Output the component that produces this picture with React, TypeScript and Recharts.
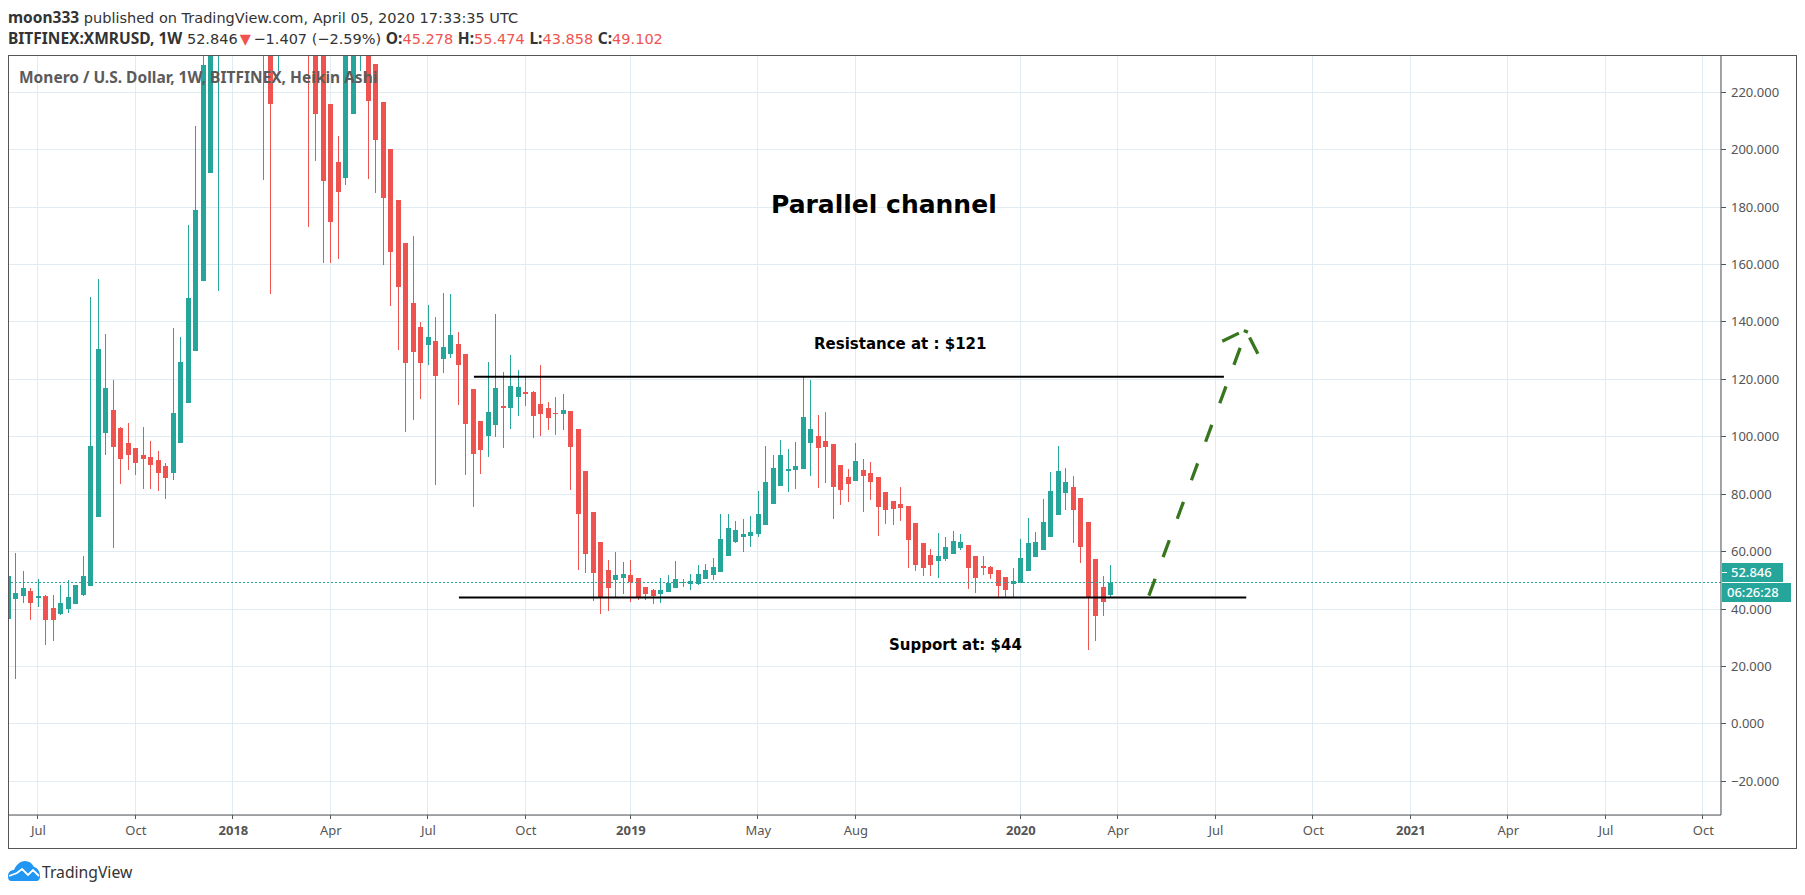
import React from "react";
import {
  ComposedChart,
  Bar,
  XAxis,
  YAxis,
  CartesianGrid,
  ReferenceLine,
} from "recharts";

const openValues = [
  36.7, 43.6, 44.7, 46.4, 44.0, 44.7, 40.5, 38.4, 40.1, 41.9, 45, 48.1, 72.2, 101.4, 109.4, 103.1, 97.9, 96.2, 93.7, 93, 92, 89.9, 87.5, 97.9, 111.8,
  129.9, 154.3, 191.9, 260, 330, 400, 450, 380, 330, 280, 270, 250, 270, 290, 290, 270, 240, 245, 215.9, 195.7, 190.1, 212.4, 240, 250, 229.8,
  216.6, 200.2, 182.5, 167.5, 146.6, 138.3, 132, 133.4, 127.2, 128.9, 132.4, 128.9, 116.7, 105.6, 100.4, 104.2, 110.8, 110.1, 113.9, 115.7,
  115.7, 111.5, 110.1, 108.3, 108, 109, 102.8, 88.2, 73.9, 63.4, 53.7, 50.2, 50.9, 52, 50.9, 47.8, 46.7, 45.3, 46, 47.4, 49, 48.8, 48.8, 50.6,
  52, 53, 58.6, 63.4, 65.2, 65.5, 66.2, 69.4, 76.7, 82.9, 88.2, 88.5, 88.9, 97.9, 100.3, 98.6, 97.6, 90.2, 86.1, 84.7, 88.5, 87.5, 86.1, 80.9,
  77.7, 76.7, 76, 70.1, 63.1, 58.9, 56.8, 57.5, 59.3, 61.4, 62.4, 58.6, 55.1, 54.7, 53.7, 51.3, 48.8, 49.2, 53.4, 58.2, 60.7, 65.2, 72.9, 80.5,
  82.6, 78.8, 70.4, 57.5, 47.8, 45,
];
const highValues = [
  51.4, 59.5, 53.4, 47.3, 50.6, 45, 45, 48.5, 50.2, 48.5, 58.6, 148.6, 155, 135.9, 119.8, 103.5, 104.9, 96.2, 103.5, 98.6, 95.1, 90.9, 137.9, 134.8, 173.8,
  208.2, 260, 300, 400, 470, 490, 480, 430, 380, 320, 290, 320, 340, 350, 310, 290, 260, 270, 215.9, 204.8, 280, 290, 280, 270, 229.8,
  216.6, 200.2, 182.5, 167.5, 170, 140, 146, 141.8, 150.2, 149.8, 136.6, 128.9, 116.7, 105.6, 126.1, 142.8, 122.6, 128.5, 123.3, 120.9,
  116, 125, 112.2, 113.9, 115, 109, 102.8, 88.2, 73.9, 63.4, 57.2, 60, 56.5, 57.2, 50.9, 47.8, 47.1, 50.9, 51.7, 56.8, 50.6, 52.3, 55.4, 55.8,
  57.9, 73.2, 73.2, 70.8, 71.5, 72.5, 81.2, 96.9, 93.7, 99, 95.8, 98.3, 120.9, 119.8, 107.7, 108.7, 97.6, 90.2, 88.9, 97.9, 92.3, 91.3, 86.1, 80.9,
  77.7, 82.6, 76, 70.1, 63.1, 61, 66.6, 65.2, 67.3, 66.2, 62.4, 58.6, 58.6, 55.1, 53.7, 51.3, 54.4, 64.5, 71.8, 66.9, 78.4, 87.8, 96.9, 89.2,
  86.4, 78.8, 70.4, 57.5, 51.6, 55.474,
];
const lowValues = [
  36.7, 15.8, 42.2, 36.3, 40.8, 27.6, 29, 37.8, 38.7, 41.9, 44.7, 48.1, 72.2, 93.7, 61.4, 83.7, 88.5, 86.8, 81.9, 81.9, 81.2, 78.4, 85, 97.9, 111.8,
  129.9, 154.3, 191.9, 150.8, 280, 300, 290, 250, 240, 189.5, 149.8, 227.4, 240, 250, 240, 173.1, 196.1, 160.6, 160.6, 162, 187.7, 212.4, 227.4, 189.8, 184.9,
  159.9, 145.6, 130.3, 101.7, 105.9, 113.2, 125, 83.3, 122.3, 127.5, 111.1, 86.8, 75.6, 87.1, 93, 100, 96.2, 102.8, 107.3, 110.8,
  99.6, 100.3, 102.4, 100.7, 102.4, 81.5, 53.7, 52.7, 42.9, 38.4, 39.4, 44, 45.3, 42.6, 43.3, 43.3, 41.9, 42.2, 46, 47.4, 47.8, 46.7, 48.5, 50.6,
  50.2, 53, 58.6, 63.1, 60, 61.7, 65.2, 69.4, 76.7, 82.9, 80.9, 81.9, 88.9, 86.4, 82.2, 84, 71.5, 76.3, 77.4, 84.7, 73.9, 78.1, 65.5, 69.7,
  69.4, 70.8, 54.4, 53.4, 51.6, 51.6, 50.9, 56.8, 59.3, 60.7, 47.1, 45.7, 52, 50.6, 44, 44, 44, 49, 53.4, 58, 60.7, 65.2, 72.9, 74.6,
  63.1, 56.2, 25.9, 29, 37.4, 43.858,
];
const closeValues = [
  51.4, 45.7, 47.5, 42.2, 44.7, 36.3, 36.3, 42.2, 44.3, 48.5, 51.6, 96.9, 130.6, 117, 96.5, 92.4, 93.7, 91, 92.4, 90.3, 87.5, 85.7, 108.4, 126.1, 148.3,
  179, 229.5, 260, 330, 400, 450, 380, 330, 280, 270, 215.9, 290, 310, 320, 270, 240, 212.4, 189.1, 174.8, 185.3, 250, 265, 260, 216.9, 203.4,
  183.2, 164.4, 152.2, 125.8, 129.6, 125.8, 134.8, 121.2, 131.3, 135.5, 125.1, 104.5, 94.1, 95.5, 108.7, 117, 110.1, 117.7, 117.4, 115,
  107.3, 108, 106.6, 108, 109.4, 96.5, 73.2, 59.3, 52.7, 44, 47.4, 52, 52.3, 49.5, 44, 45.3, 44.7, 46.7, 49.2, 50.6, 49.5, 49.9, 52.3, 53.7,
  54.8, 64.5, 68.3, 67.6, 66.2, 66.9, 73.2, 84.3, 89.2, 93.7, 88.9, 89.9, 106.9, 102.8, 96.2, 96.5, 82.6, 81.5, 83.6, 91.6, 86.4, 84.3, 75.6, 74.6,
  75, 75.3, 64.2, 55.4, 54.4, 55.4, 58.6, 61.7, 63.8, 63.5, 54.4, 50.9, 54.4, 52.3, 48.1, 46.7, 49.9, 57.9, 63.1, 63.5, 70.4, 81.2, 88.2, 84.3,
  74.6, 61.7, 44, 37.4, 42.6, 49.102,
];

const priceTicks = [-20, 0, 20, 40, 60, 80, 100, 120, 140, 160, 180, 200, 220];
const weekTicks = [4, 17, 30, 43, 56, 69, 83, 100, 113, 135, 148, 161, 174, 187, 200, 213, 226];
const weekLabels = ["Jul", "Oct", "2018", "Apr", "Jul", "Oct", "2019", "May", "Aug", "2020", "Apr", "Jul", "Oct", "2021", "Apr", "Jul", "Oct"];
const yearLabels = ["2018", "2019", "2020", "2021"];

const lastClose = 49.102;
const resistance = { from: 62.07, to: 162.07, value: 120.9 };
const support = { from: 60.07, to: 165.05, value: 44 };
const arrowShaft = [{ x: 152.07, y: 44.66 }, { x: 164.3, y: 131.4 }];
const arrowLeft = [{ x: 161.85, y: 133.3 }, { x: 164.07, y: 136.1 }];
const arrowTip = [{ x: 164.73, y: 137 }, { x: 165.27, y: 136.4 }];
const arrowRight = [{ x: 165.49, y: 134.6 }, { x: 166.6, y: 128.9 }];

const candles = openValues.map((open, i) => ({
  week: i,
  open,
  high: highValues[i],
  low: lowValues[i],
  close: closeValues[i],
}));

const xDomain = [0.0133, 228.35];
const UP = "#26a69a";
const DOWN = "#ef5350";
const INK = "#555555";
const GRID = "#e1ecf2";
const GREEN = "#38761d";
const FONT = '"Noto Sans", sans-serif';
const WIDE = '"DejaVu Sans", sans-serif';

const CandlePart = (props: any) => {
  const { x, y, width, height, payload } = props;
  return (
    <rect
      x={x}
      y={y}
      width={width}
      height={Math.max(height, 1)}
      fill={payload.close >= payload.open ? UP : DOWN}
      shapeRendering="crispEdges"
    />
  );
};

const WeekTick = (props: any) => {
  const { x, y, payload } = props;
  const label = weekLabels[weekTicks.indexOf(payload.value)];
  return (
    <text
      x={x}
      y={y + 14}
      textAnchor="middle"
      fontFamily={FONT}
      fontSize={13}
      fontWeight={yearLabels.includes(label) ? 700 : 400}
      fill={INK}
    >
      {label}
    </text>
  );
};

const PriceTick = (props: any) => {
  const { x, y, payload } = props;
  const text = (payload.value < 0 ? "\u2212" : "") + Math.abs(payload.value).toFixed(3);
  return (
    <text x={x} y={y + 4.5} textAnchor="start" fontFamily={FONT} fontSize={13} fill={INK}>
      {text}
    </text>
  );
};

const abs = (left: number, top: number, style: any = {}): any => ({
  position: "absolute",
  left,
  top,
  whiteSpace: "nowrap",
  fontFamily: FONT,
  ...style,
});

const boldHeader = { fontFamily: FONT, fontWeight: 700, fontSize: 15.5 };

export default function App() {
  return (
    <div style={{ position: "absolute", left: 0, top: 0, width: 1805, height: 895, background: "#fff", overflow: "hidden" }}>
      <style>{`.recharts-cartesian-grid-vertical line{transform:translateX(-0.5px)}.recharts-xAxis .recharts-cartesian-axis-tick-line{transform:translateX(-0.5px)}`}</style>
      <div style={abs(8, 7, { fontSize: 14.5, lineHeight: "20px", color: "#333", fontFamily: WIDE })}>
        <span style={boldHeader}>moon333</span> published on TradingView.com, April 05, 2020 17:33:35 UTC
      </div>
      <div style={abs(8, 28, { fontSize: 14.5, lineHeight: "20px", color: "#333", fontFamily: WIDE })}>
        <span style={boldHeader}>BITFINEX:XMRUSD, 1W</span> 52.846
        <span style={{ color: DOWN, marginLeft: 2, marginRight: -2 }}>▼</span> −1.407 (−2.59%) <span style={boldHeader}>O:</span>
        <span style={{ color: DOWN }}>45.278</span> <span style={boldHeader}>H:</span>
        <span style={{ color: DOWN }}>55.474</span> <span style={boldHeader}>L:</span>
        <span style={{ color: DOWN }}>43.858</span> <span style={boldHeader}>C:</span>
        <span style={{ color: DOWN }}>49.102</span>
      </div>

      <div style={{ position: "absolute", left: 0, top: 0 }}>
        <ComposedChart
          width={1805}
          height={895}
          data={candles}
          margin={{ top: 55.5, right: 9, bottom: 47, left: 8.5 }}
        >
          <CartesianGrid xAxisId="body" yAxisId="price" stroke={GRID} strokeWidth={1} shapeRendering="crispEdges" />
          <XAxis
            xAxisId="body"
            type="number"
            dataKey="week"
            domain={xDomain}
            allowDataOverflow
            ticks={weekTicks}
            interval={0}
            height={33}
            tickSize={4}
            tickMargin={2}
            tick={<WeekTick />}
            stroke={INK}
            tickLine={{ stroke: INK, shapeRendering: "crispEdges" }}
          />
          <XAxis xAxisId="wick" type="number" dataKey="week" domain={xDomain} allowDataOverflow hide />
          <YAxis
            yAxisId="price"
            orientation="right"
            type="number"
            domain={[-31.74, 232.8]}
            allowDataOverflow
            ticks={priceTicks}
            interval={0}
            width={75}
            tickSize={5}
            tickMargin={5}
            tick={<PriceTick />}
            stroke={INK}
            tickLine={{ stroke: INK, shapeRendering: "crispEdges" }}
          />
          <Bar
            xAxisId="wick"
            yAxisId="price"
            dataKey={(d: any) => [d.low, d.high]}
            barSize={1}
            shape={<CandlePart />}
            isAnimationActive={false}
          />
          <Bar
            xAxisId="body"
            yAxisId="price"
            dataKey={(d: any) => [Math.min(d.open, d.close), Math.max(d.open, d.close)]}
            barSize={5}
            shape={<CandlePart />}
            isAnimationActive={false}
          />
          <ReferenceLine xAxisId="body" yAxisId="price" y={lastClose} stroke={UP} strokeDasharray="2 2" strokeWidth={1} shapeRendering="crispEdges" />
          <ReferenceLine
            xAxisId="body"
            yAxisId="price"
            segment={[{ x: resistance.from, y: resistance.value }, { x: resistance.to, y: resistance.value }]}
            stroke="#000"
            strokeWidth={2}
          />
          <ReferenceLine
            xAxisId="body"
            yAxisId="price"
            segment={[{ x: support.from, y: support.value }, { x: support.to, y: support.value }]}
            stroke="#000"
            strokeWidth={2}
          />
          <ReferenceLine xAxisId="body" yAxisId="price" segment={arrowShaft} stroke={GREEN} strokeWidth={3.3} strokeDasharray="18 23" />
          <ReferenceLine xAxisId="body" yAxisId="price" segment={arrowLeft} stroke={GREEN} strokeWidth={3.3} />
          <ReferenceLine xAxisId="body" yAxisId="price" segment={arrowTip} stroke={GREEN} strokeWidth={3.3} />
          <ReferenceLine xAxisId="body" yAxisId="price" segment={arrowRight} stroke={GREEN} strokeWidth={3.3} />
        </ComposedChart>
      </div>

      <div style={{ position: "absolute", left: 8, top: 55, width: 1789, height: 794, boxSizing: "border-box", border: `1px solid ${INK}`, pointerEvents: "none" }} />

      <div style={abs(19, 66, { fontSize: 15.5, lineHeight: "22px", fontWeight: 700, color: "#5b5b5b" })}>
        Monero / U.S. Dollar, 1W, BITFINEX, Heikin Ashi
      </div>
      <div style={abs(771, 189, { fontSize: 25, lineHeight: "32px", fontWeight: 700, color: "#000", fontFamily: WIDE })}>
        Parallel channel
      </div>
      <div style={abs(814, 334, { fontSize: 15, lineHeight: "20px", fontWeight: 700, color: "#000", fontFamily: WIDE })}>
        Resistance at : $121
      </div>
      <div style={abs(889, 635, { fontSize: 15, lineHeight: "20px", fontWeight: 700, color: "#000", fontFamily: WIDE })}>
        Support at: $44
      </div>

      <div style={abs(1722, 563, { width: 61, height: 19, background: UP })} />
      <div style={abs(1722, 571.5, { width: 5, height: 1, background: "#fff" })} />
      <div style={abs(1731, 563, { fontSize: 13, lineHeight: "19px", fontWeight: 500, color: "#fff" })}>52.846</div>
      <div style={abs(1722, 583, { width: 69, height: 19, background: UP })} />
      <div style={abs(1727, 583, { fontSize: 13, lineHeight: "19px", fontWeight: 500, color: "#fff" })}>06:26:28</div>

      <svg style={{ position: "absolute", left: 8, top: 861 }} width={33} height={20} viewBox="0 0 33 20">
        <path
          d="M3 20 C0.5 20 0 17 0 15 C0 11 3 9 6 9 C8 4 12 0 17 0 C21 0 24 2 26 6 C30 7 32 11 32 15 C32 18 31 20 28 20 Z"
          fill="#2196f3"
        />
        <polyline points="1,15 9,12 14,8 20,14 25,9 31,15" fill="none" stroke="#fff" strokeWidth={1.8} />
      </svg>
      <div style={abs(42, 860, { fontSize: 15.7, lineHeight: "24px", color: "#333" })}>TradingView</div>
    </div>
  );
}
